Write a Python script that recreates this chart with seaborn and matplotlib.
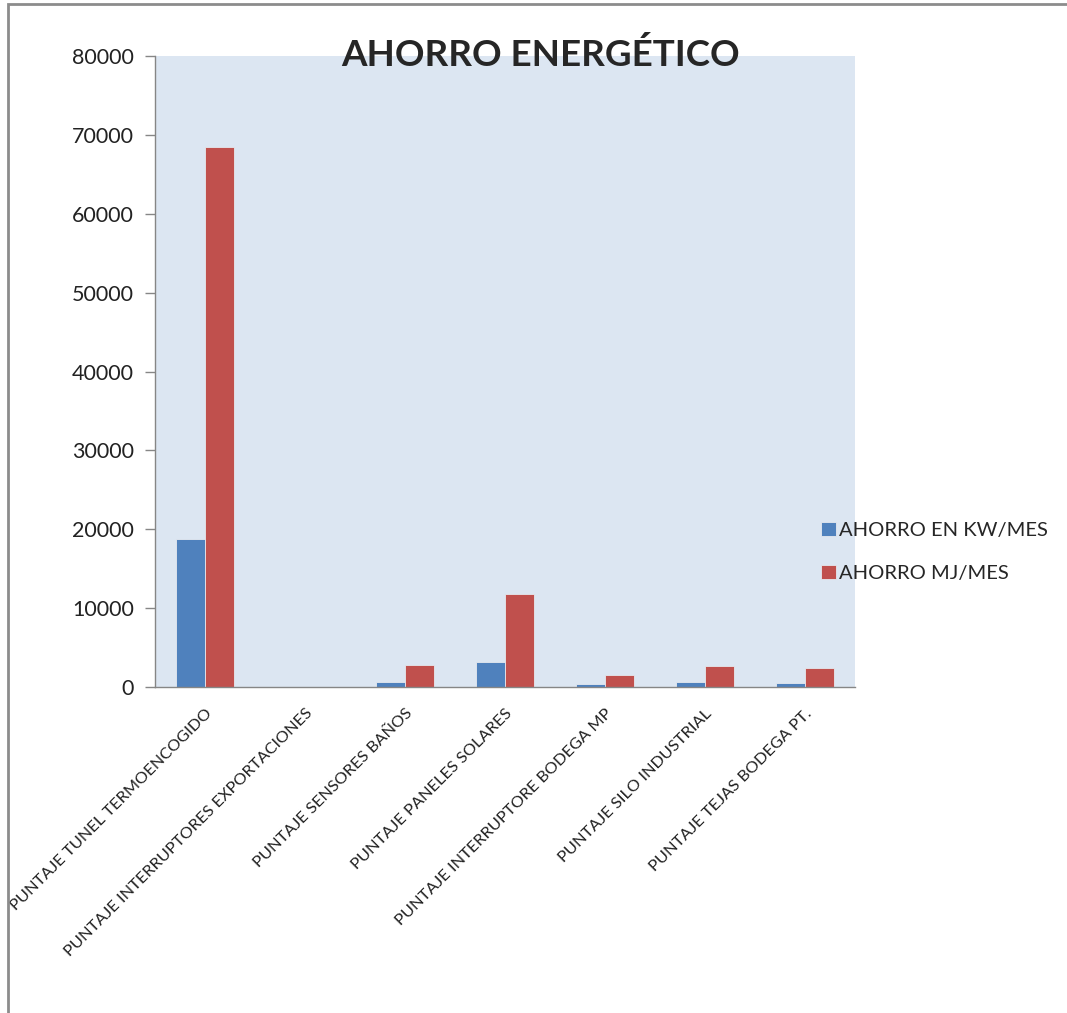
import pandas as pd
import matplotlib.pyplot as plt
import seaborn as sns
from matplotlib.patches import Rectangle

categories = ["PUNTAJE TUNEL TERMOENCOGIDO", "PUNTAJE INTERRUPTORES EXPORTACIONES",
              "PUNTAJE SENSORES BAÑOS", "PUNTAJE PANELES SOLARES",
              "PUNTAJE INTERRUPTORE BODEGA MP", "PUNTAJE SILO INDUSTRIAL",
              "PUNTAJE TEJAS BODEGA PT."]
kw_mes = [18800, 0, 650, 3200, 400, 680, 540]
mj_mes = [68500, 0, 2780, 11800, 1520, 2600, 2430]
series = ["AHORRO EN KW/MES", "AHORRO MJ/MES"]
yticks = [0, 10000, 20000, 30000, 40000, 50000, 60000, 70000, 80000]

df = pd.DataFrame({
    "categoria": categories * 2,
    "serie": [series[0]] * len(categories) + [series[1]] * len(categories),
    "valor": kw_mes + mj_mes,
})

sns.set_style("white")
plt.rcParams["font.family"] = ["Lato", "DejaVu Sans"]

fig = plt.figure(figsize=(10.67, 10.13), dpi=100)
ax = fig.add_axes([155 / 1067, 1 - 687 / 1013, 700 / 1067, 631 / 1013])
ax.set_facecolor("#dce6f2")

sns.barplot(data=df, x="categoria", y="valor", hue="serie", order=categories,
            palette=["#4f81bd", "#c0504d"], saturation=1, width=0.575, gap=0,
            edgecolor="#e6e9ef", linewidth=0.6, ax=ax)

ax.set_xlim(-0.5, 6.5)
ax.set_ylim(0, 80000)
ax.set_yticks(yticks)
ax.set_yticklabels([str(v) for v in yticks], fontsize=15.5, color="#222222")
ax.set_xlabel("")
ax.set_ylabel("")

# category labels at centres, tick marks between categories
ax.set_xticks(range(len(categories)))
ax.set_xticklabels(categories, rotation=45, ha="right", va="top",
                   rotation_mode="anchor", fontsize=11.8, color="#222222")
ax.tick_params(axis="x", which="major", length=0, pad=14)
ax.set_xticks([i - 0.5 for i in range(len(categories) + 1)], minor=True)
ax.tick_params(axis="x", which="minor", length=7, width=1, color="#868686", direction="out")
ax.tick_params(axis="y", length=7, width=1, color="#868686", direction="out", pad=8, left=True)

for side in ["top", "right"]:
    ax.spines[side].set_visible(False)
for side in ["left", "bottom"]:
    ax.spines[side].set_color("#868686")
    ax.spines[side].set_linewidth(1)

ax.legend(loc="center left", bbox_to_anchor=(811 / 1067, 1 - 552 / 1013),
          bbox_transform=fig.transFigure, frameon=False, fontsize=14.5,
          handlelength=0.75, handleheight=0.7, handletextpad=0.15,
          labelspacing=1.25, borderpad=0, title=None)

fig.text(541 / 1067, 1 - 55 / 1013, "AHORRO ENERGÉTICO", ha="center", va="center",
         fontsize=26.5, fontweight="bold", family=["Lato"])

# document frame around the chart
fig.patches.append(Rectangle((8 / 1067, -0.05), 1.1, 1 - 4 / 1013 + 0.05,
                             transform=fig.transFigure, fill=False,
                             edgecolor="#8c8c8c", linewidth=2))

plt.savefig("out.png", dpi=100)
